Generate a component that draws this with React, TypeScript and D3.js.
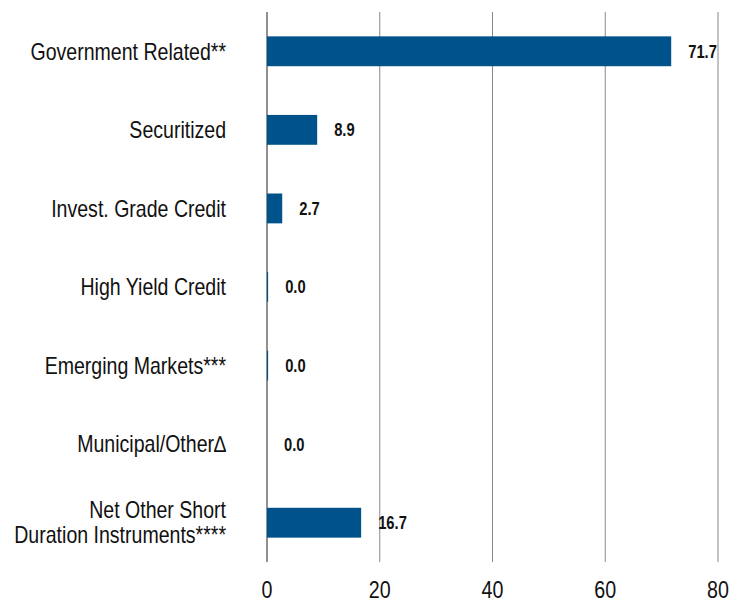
import React from "react";
import * as d3 from "d3";

const categories = [
  ["Government Related**"],
  ["Securitized"],
  ["Invest. Grade Credit"],
  ["High Yield Credit"],
  ["Emerging Markets***"],
  ["Municipal/Other\u2206"],
  ["Net Other Short", "Duration Instruments****"],
];
const values = [71.7, 8.9, 2.7, 0.2, 0.2, 0, 16.7];
const valueLabels = ["71.7", "8.9", "2.7", "0.0", "0.0", "0.0", "16.7"];
const ticks = [0, 20, 40, 60, 80];

const W = 737, H = 603;
const FONT = "'Liberation Sans Narrow', 'Arial Narrow', 'Liberation Sans', Arial, sans-serif";

function NText({ x, y, sx, anchor, size, weight, children }: any) {
  return (
    <g transform={`translate(${x},${y}) scale(${sx},1)`}>
      <text textAnchor={anchor} dy="0.36em" fontFamily={FONT} fontSize={size} fontWeight={weight} fill="#111">
        {children}
      </text>
    </g>
  );
}

export default function App() {
  const x = d3.scaleLinear().domain([0, 80]).range([267, 718]);
  const y = d3.scaleBand<number>().domain(d3.range(categories.length)).range([12, 562]).paddingInner(0.62).paddingOuter(0.31);
  const bh = y.bandwidth();
  return (
    <svg width={W} height={H} style={{ position: "absolute", left: 0, top: 0, background: "#fff" }}>
      {ticks.map((t) => (
        <line key={t} x1={x(t)} x2={x(t)} y1={12} y2={562} stroke={t === 0 ? "#222" : "#888"} strokeWidth={1} />
      ))}
      {values.map((v, i) => (
        <rect key={i} x={x(0)} y={y(i)!} width={Math.max(0, x(v) - x(0))} height={bh} fill="#00538a" />
      ))}
      {values.map((v, i) => (
        <NText key={i} x={x(v) + 17} y={y(i)! + bh / 2} sx={0.82} anchor="start" size={18} weight="bold">
          {valueLabels[i]}
        </NText>
      ))}
      {categories.map((c, i) => {
        const cy = y(i)! + bh / 2;
        const n = c.length;
        return c.map((line, j) => (
          <NText key={`${i}-${j}`} x={226} y={cy + (j - (n - 1) / 2) * 25} sx={0.85} anchor="end" size={23}>
            {line}
          </NText>
        ));
      })}
      {ticks.map((t) => (
        <NText key={t} x={x(t)} y={589} sx={0.82} anchor="middle" size={24}>
          {t}
        </NText>
      ))}
    </svg>
  );
}
